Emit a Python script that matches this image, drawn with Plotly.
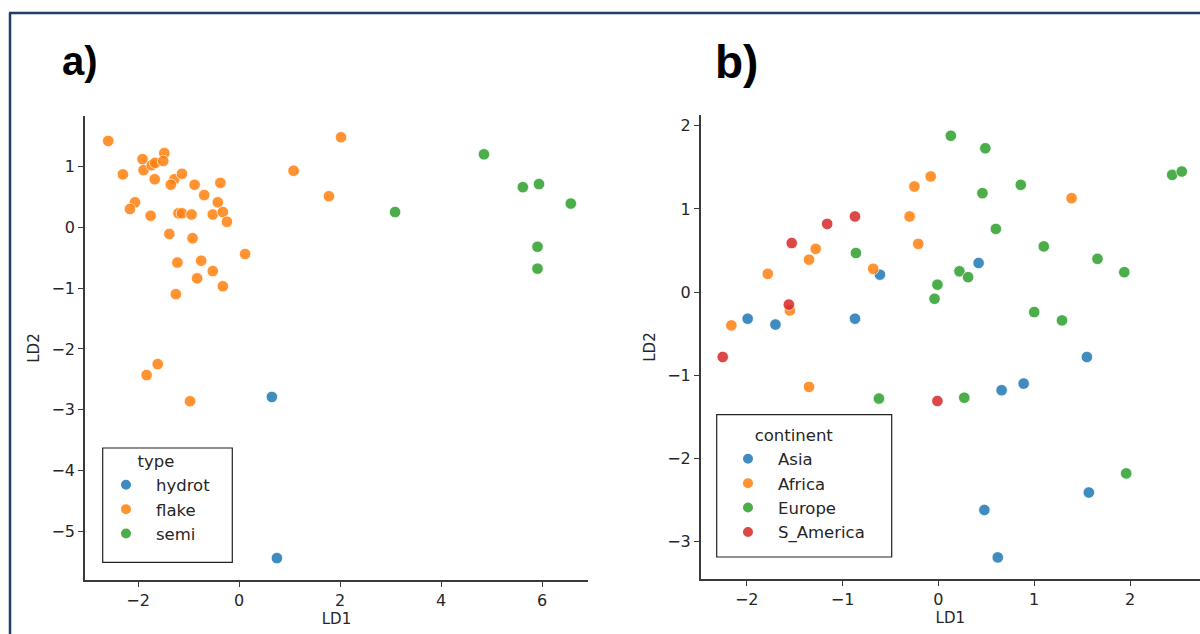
import plotly.graph_objects as go

# ---------------- data: panel a) (type) ----------------
hydrot_x = [0.65, 0.75]
hydrot_y = [-2.79, -5.44]

flake_x = [-2.59, -1.91, -2.30, -1.89, -1.73, -1.66, -1.48, -1.50, -1.67, -1.28,
           -1.35, -1.13, -0.88, -0.37, -0.69, -2.06, -2.16, -1.75, -1.20, -1.13,
           -0.94, -0.52, -0.42, -0.32, -0.24, -1.38, -0.92, 0.12, -1.22, -0.75,
           -0.52, -0.83, -0.32, -1.25, 1.08, 2.02, 1.78, -1.61, -1.83, -0.97]
flake_y = [1.42, 1.12, 0.87, 0.94, 1.02, 1.06, 1.22, 1.09, 0.79, 0.79,
           0.70, 0.88, 0.70, 0.73, 0.53, 0.41, 0.30, 0.19, 0.23, 0.23,
           0.21, 0.21, 0.41, 0.25, 0.09, -0.11, -0.18, -0.44, -0.58, -0.55,
           -0.72, -0.84, -0.97, -1.10, 0.93, 1.48, 0.51, -2.25, -2.43, -2.86]

semi_x = [3.09, 4.85, 5.62, 5.94, 6.57, 5.91, 5.91]
semi_y = [0.25, 1.20, 0.66, 0.71, 0.39, -0.32, -0.68]

# ---------------- data: panel b) (continent) ----------------
asia_x = [-1.99, -1.70, -0.87, -0.61, 0.42, 1.55, 0.66, 0.89, 1.57, 0.48, 0.62]
asia_y = [-0.32, -0.39, -0.32, 0.21, 0.35, -0.78, -1.18, -1.10, -2.41, -2.62, -3.19]

africa_x = [-2.16, -1.78, -1.35, -1.28, -1.55, -0.68, -0.30, -0.25, -0.21, -0.08, 1.39, -1.35]
africa_y = [-0.40, 0.22, 0.39, 0.52, -0.22, 0.28, 0.91, 1.27, 0.58, 1.39, 1.13, -1.14]

europe_x = [-0.86, 0.13, 0.49, 0.46, 0.86, 0.60, 1.10, 1.66, 1.94, 0.22,
            0.31, -0.01, -0.04, 1.00, 1.29, 2.44, 2.54, -0.62, 0.27, 1.96]
europe_y = [0.47, 1.88, 1.73, 1.19, 1.29, 0.76, 0.55, 0.40, 0.24, 0.25,
            0.18, 0.09, -0.08, -0.24, -0.34, 1.41, 1.45, -1.28, -1.27, -2.18]

samerica_x = [-1.53, -1.16, -0.87, -1.56, -2.25, -0.01]
samerica_y = [0.59, 0.82, 0.91, -0.15, -0.78, -1.31]

left_xticks = [-2, 0, 2, 4, 6]
left_yticks = [1, 0, -1, -2, -3, -4, -5]
right_xticks = [-2, -1, 0, 1, 2]
right_yticks = [2, 1, 0, -1, -2, -3]

# ---------------- styling ----------------
W, H = 1200, 634
C_BLUE, C_ORANGE, C_GREEN, C_RED = "#1f77b4", "#ff7f0e", "#2ca02c", "#d62728"
TXT = "#262626"
AXC = "#3a3a3a"
FONT = "DejaVu Sans"


def px_x(p):
    return p / W


def px_y(p):
    return 1 - p / H


def marker(color):
    return dict(color=color, size=11.5, opacity=0.85, line=dict(color="white", width=0.8))


fig = go.Figure()

for name, xs, ys, col in [("hydrot", hydrot_x, hydrot_y, C_BLUE),
                          ("flake", flake_x, flake_y, C_ORANGE),
                          ("semi", semi_x, semi_y, C_GREEN)]:
    fig.add_trace(go.Scatter(x=xs, y=ys, mode="markers", name=name, marker=marker(col),
                             xaxis="x", yaxis="y", legend="legend"))

for name, xs, ys, col in [("Asia", asia_x, asia_y, C_BLUE),
                          ("Africa", africa_x, africa_y, C_ORANGE),
                          ("Europe", europe_x, europe_y, C_GREEN),
                          ("S_America", samerica_x, samerica_y, C_RED)]:
    fig.add_trace(go.Scatter(x=xs, y=ys, mode="markers", name=name, marker=marker(col),
                             xaxis="x2", yaxis="y2", legend="legend2"))

axis_common = dict(showgrid=False, zeroline=False, showline=True, linecolor=AXC, linewidth=1.5,
                   ticks="outside", ticklen=5, tickwidth=1.2, tickcolor=AXC, mirror=False,
                   tickfont=dict(family=FONT, size=16, color=TXT), automargin=False)

LEG_FONT = dict(family=FONT, size=16.5, color=TXT)

fig.update_layout(
    width=W, height=H, margin=dict(l=0, r=0, t=0, b=0),
    paper_bgcolor="white", plot_bgcolor="white",
    font=dict(family=FONT, color=TXT),
    xaxis=dict(domain=[px_x(85), px_x(588)], range=[-3.05, 6.91], tickvals=left_xticks,
               anchor="y", title=dict(text="LD1", font=dict(size=15, color=TXT), standoff=5),
               **axis_common),
    yaxis=dict(domain=[px_y(580), px_y(116)], range=[-5.8, 1.83], tickvals=left_yticks,
               anchor="x", title=dict(text="LD2", font=dict(size=15, color=TXT), standoff=8),
               **axis_common),
    xaxis2=dict(domain=[px_x(700.7), 1.0], range=[-2.48, 2.73], tickvals=right_xticks,
                anchor="y2", title=dict(text="LD1", font=dict(size=15, color=TXT), standoff=5),
                **axis_common),
    yaxis2=dict(domain=[px_y(579), px_y(115)], range=[-3.45, 2.13], tickvals=right_yticks,
                anchor="x2", title=dict(text="LD2", font=dict(size=15, color=TXT), standoff=8),
                **axis_common),
    legend=dict(x=px_x(96), y=px_y(446), xanchor="left", yanchor="top",
                bgcolor="rgba(0,0,0,0)", borderwidth=0, itemwidth=50, itemsizing="constant",
                font=LEG_FONT,
                title=dict(text="type", side="top center", font=LEG_FONT)),
    legend2=dict(x=px_x(718), y=px_y(420), xanchor="left", yanchor="top",
                 bgcolor="rgba(0,0,0,0)", borderwidth=0, itemwidth=50, itemsizing="constant",
                 font=LEG_FONT,
                 title=dict(text="continent", side="top center", font=LEG_FONT)),
    showlegend=True,
)

# legend frames
fig.add_shape(type="rect", xref="paper", yref="paper",
              x0=px_x(102.7), x1=px_x(232.3), y0=px_y(562.3), y1=px_y(448),
              line=dict(color="#222222", width=1.2), fillcolor="rgba(255,255,255,0.8)", layer="below")
fig.add_shape(type="rect", xref="paper", yref="paper",
              x0=px_x(716.7), x1=px_x(891.7), y0=px_y(557), y1=px_y(414.7),
              line=dict(color="#222222", width=1.2), fillcolor="rgba(255,255,255,0.8)", layer="below")

# outer frame (top and left edges visible)
FRAME = "#1f3f66"
fig.add_shape(type="line", xref="paper", yref="paper", x0=px_x(9), x1=1.0, y0=px_y(13), y1=px_y(13),
              line=dict(color=FRAME, width=2.5))
fig.add_shape(type="line", xref="paper", yref="paper", x0=px_x(10), x1=px_x(10), y0=px_y(13), y1=0,
              line=dict(color=FRAME, width=2.5))

# panel labels
fig.add_annotation(text="<b>a)</b>", xref="paper", yref="paper", x=px_x(60), y=px_y(61),
                   xanchor="left", yanchor="middle", showarrow=False,
                   font=dict(family="Liberation Sans", size=40, color="black"))
fig.add_annotation(text="<b>b)</b>", xref="paper", yref="paper", x=px_x(713), y=px_y(62),
                   xanchor="left", yanchor="middle", showarrow=False,
                   font=dict(family="Liberation Sans", size=46, color="black"))

fig.write_html("out.html")
